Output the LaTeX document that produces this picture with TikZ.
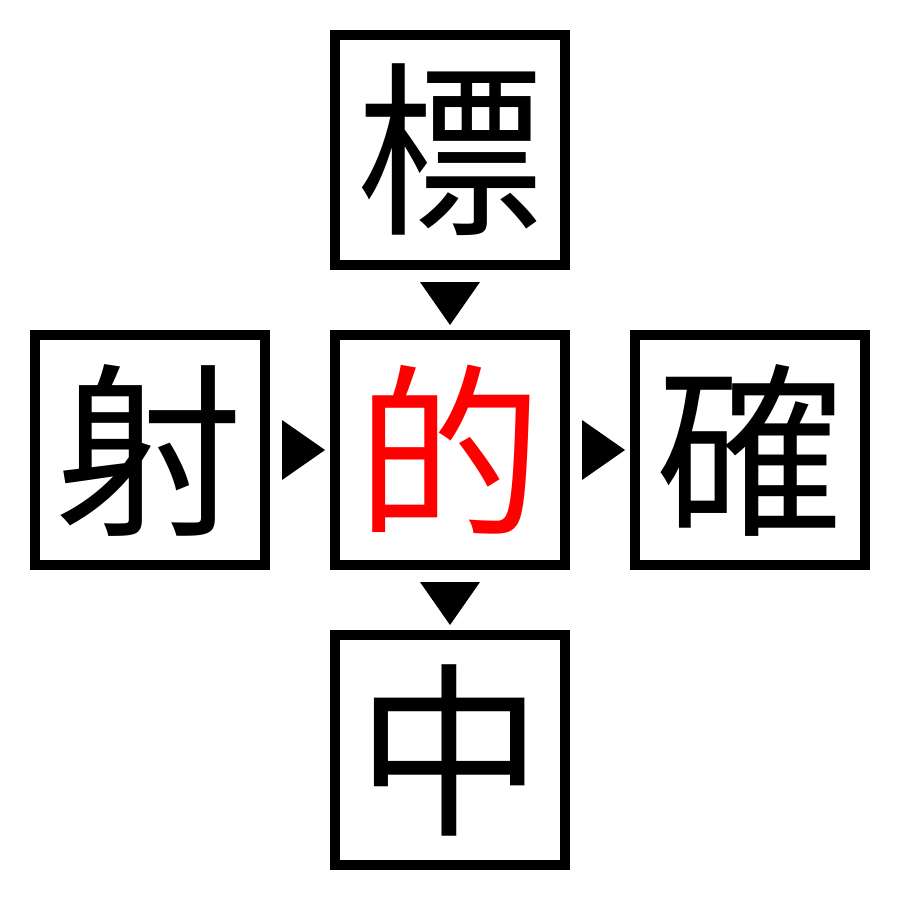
\documentclass[tikz,border=0pt]{standalone}
\usepackage{fontspec}
\usepackage{xcolor}
\usepackage{tikz}
\usetikzlibrary{calc}
\newfontfamily\cjk{Noto Sans CJK JP}
\tikzset{charbox/.style={draw, line width=7.5pt, minimum size=172.5pt, inner sep=0pt, font=\cjk\fontsize{140}{140}\selectfont}}

\begin{document}
\begin{tikzpicture}[x=0.75pt,y=0.75pt,yscale=-1,xscale=1]
\useasboundingbox (0,0) rectangle (900,900);

% Char Boxes
\node [charbox] (hyo) at (450,150) {標};
\node [charbox] (sha) at (150,450) {射};
\node [charbox, text=red] (teki) at (450,450) {的};
\node [charbox] (kaku) at (750,450) {確};
\node [charbox] (chu) at (450,750) {中};

% Pointers
\fill ($(teki.north)+(0,-5)$) -- ++(-30,-43) -- ++(60,0) -- cycle ;
\fill ($(teki.west)+(-5,0)$) -- ++(-43,-30) -- ++(0,60) -- cycle ;
\fill ($(kaku.west)+(-5,0)$) -- ++(-43,-30) -- ++(0,60) -- cycle ;
\fill ($(chu.north)+(0,-5)$) -- ++(-30,-43) -- ++(60,0) -- cycle ;

\end{tikzpicture}
\end{document}
